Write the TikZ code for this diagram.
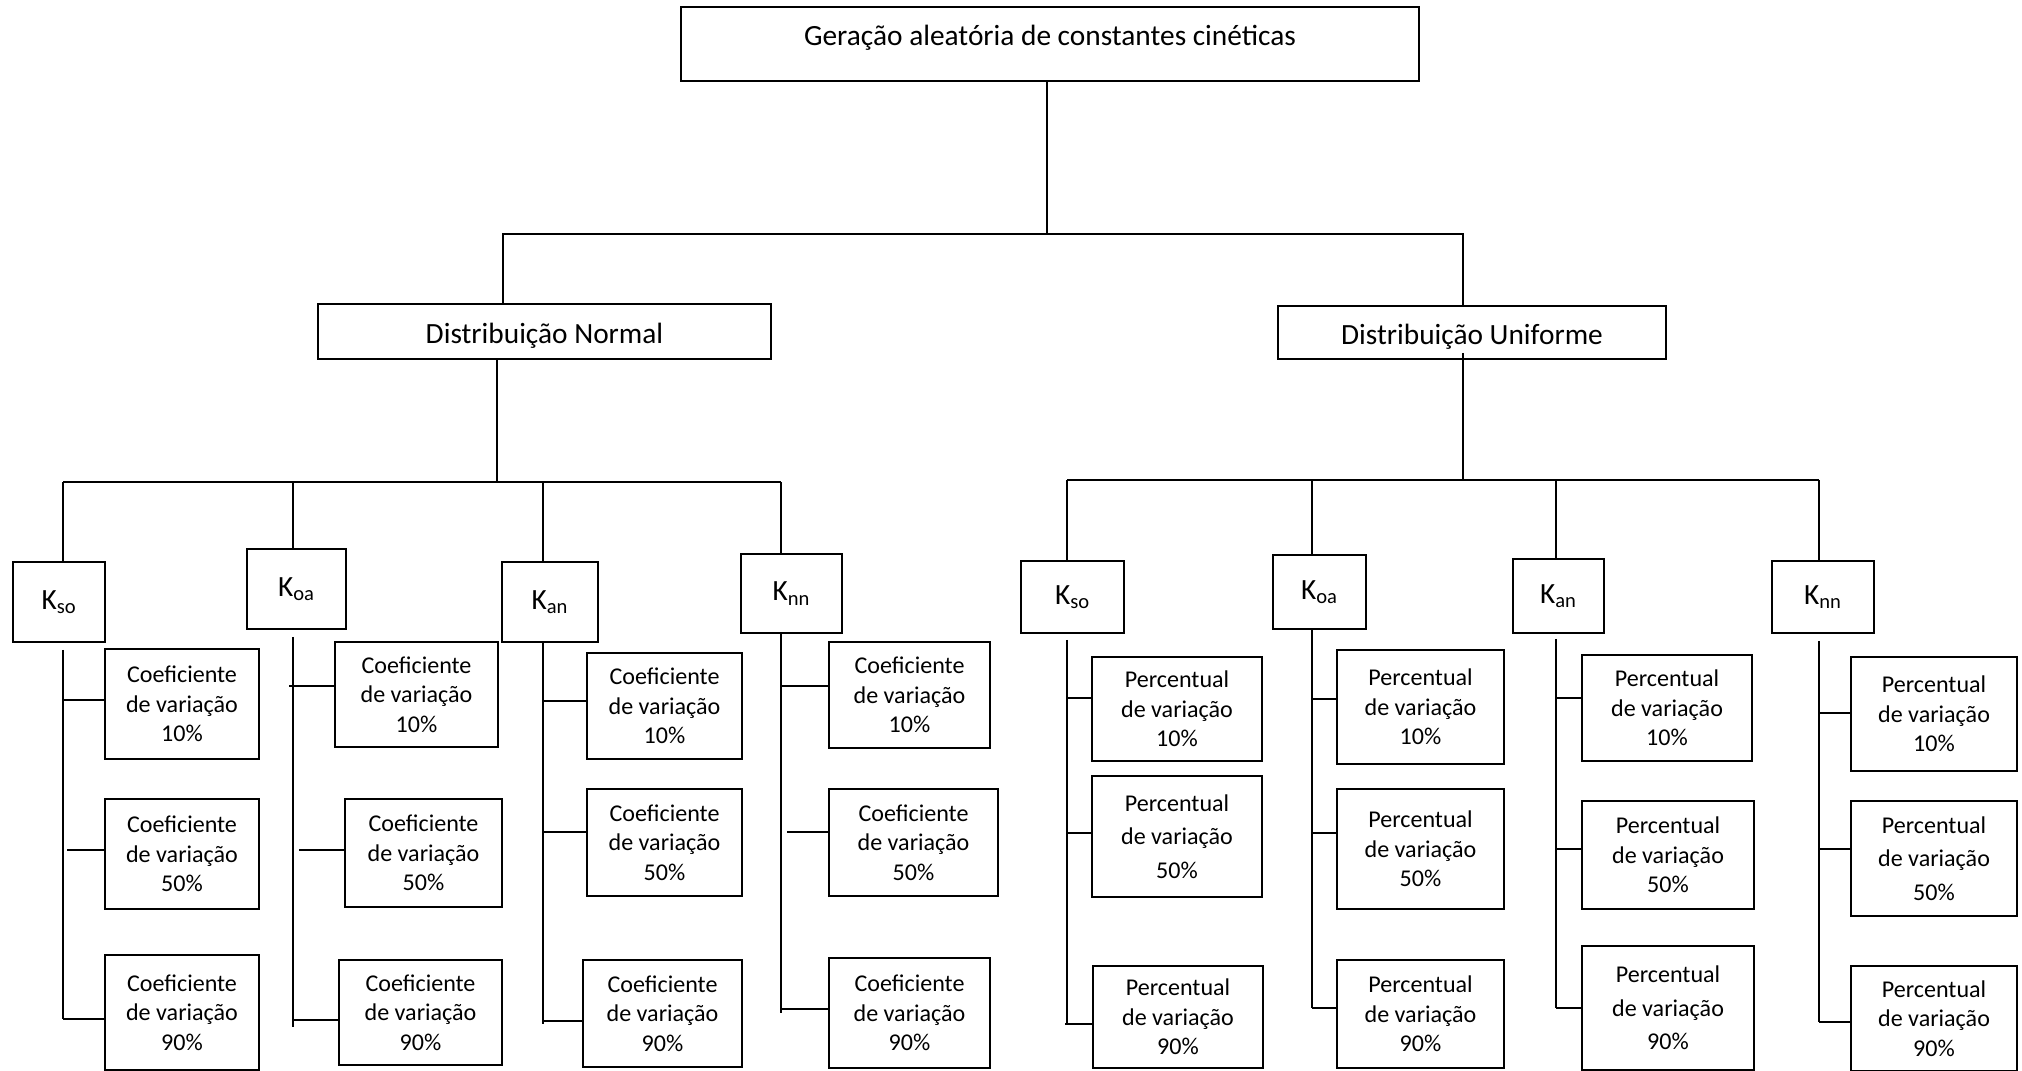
\documentclass[tikz,border=0pt]{standalone}
\usepackage{fontspec}
\setmainfont{Carlito}
\begin{document}
\begin{tikzpicture}[x=0.2mm, y=-0.2mm, line width=1.1pt,
  every node/.style={font=\fontsize{16.7}{20}\selectfont},
  box/.style={draw, inner sep=0pt, align=center},
  sz/.style 2 args={minimum width=#1*0.2mm, minimum height=#2*0.2mm},
  leaf/.style={box, font=\fontsize{13.7}{#1}\selectfont}]
\useasboundingbox (0,0) rectangle (2022,1071);
% topo e distribuicoes
\node[box,sz={738}{74},text height=12pt,text depth=10pt] (ger) at (1050,44) {Geração aleatória de constantes cinéticas};
\node[box,sz={453}{55},text height=17pt,text depth=3.5pt] (dn) at (544.5,331.5) {Distribuição Normal};
\node[box,sz={388}{53},text height=17pt,text depth=3.5pt] (du) at (1472,332.5) {Distribuição Uniforme};
\coordinate (b0) at (1047,234); \coordinate (jn) at (503,234); \coordinate (ju) at (1463,234);
\draw (ger.south -| b0) -- (b0);
\draw (dn.north -| jn) -- (jn) -- (ju) -- (du.north -| ju);
\coordinate (bn) at (497,482); \coordinate (bu) at (1463,480);
\draw (dn.south -| bn) -- (bn);
\draw (du.south -| bu) ++(0,-7) -- (bu);
% constantes
\foreach \nm/\x/\y/\w/\h/\s in {nso/59/602/92/80/so, noa/296.5/589/99/80/oa, nan/550/602/96/80/an, nnn/791.5/593.5/101/79/nn,
  uso/1072.5/597/103/72/so, uoa/1319.5/592/93/74/oa, uan/1558.5/596/91/74/an, unn/1823/597/102/72/nn}
  \node[box,sz={\w}{\h}] (\nm) at (\x,\y) {K\textsubscript{\s}};
\foreach \kk/\x/\y in {xnso/63/482, xnoa/293/482, xnan/543/482, xnnn/781/482, xuso/1067/480, xuoa/1312/480, xuan/1556/480, xunn/1819/480}
  \coordinate (\kk) at (\x,\y);
\draw (xnso) -- (xnnn);
\draw (xuso) -- (xunn);
\foreach \kk/\kn/\g/\yb in {xnso/nso/7/1019, xnoa/noa/7/1027, xnan/nan/0/1024, xnnn/nnn/0/1013,
  xuso/uso/6/1024, xuoa/uoa/0/1008, xuan/uan/5/1008, xunn/unn/7/1022} {
  \draw (\kk) -- (\kn.north -| \kk);
  \draw (\kn.south -| \kk) ++(0,\g) -- (\kk |- 0,\yb);
}
% coeficientes e percentuais
\foreach \nm/\kk/\x/\y/\w/\h/\lb/\p/\sy/\o/\ls in {
  a1/xnso/182/704/154/110/Coeficiente/10/700/0/16.7, a2/xnso/182/854/154/110/Coeficiente/50/850/4/16.7, a3/xnso/182/1012.5/154/115/Coeficiente/90/1019/0/16.7,
  b1/xnoa/416.5/694.5/163/105/Coeficiente/10/686/-4/16.7, b2/xnoa/423.5/853/157/108/Coeficiente/50/850/6/16.7, b3/xnoa/420.5/1012.5/163/105/Coeficiente/90/1020/0/16.7,
  c1/xnan/664.5/706/155/106/Coeficiente/10/701/0/16.7, c2/xnan/664.5/842.5/155/107/Coeficiente/50/832/0/16.7, c3/xnan/662.5/1013.5/159/107/Coeficiente/90/1021/0/16.7,
  d1/xnnn/909.5/695/161/106/Coeficiente/10/686/0/16.7, d2/xnnn/913.5/842.5/169/107/Coeficiente/50/832/6/16.7, d3/xnnn/909.5/1013/161/110/Coeficiente/90/1009/0/16.7,
  e1/xuso/1177/709/170/104/Percentual/10/698/0/16.7, e2/xuso/1177/836.5/170/121/Percentual/50/833/0/19, e3/xuso/1178/1017/170/102/Percentual/90/1024/-2/16.7,
  f1/xuoa/1420.5/707/167/114/Percentual/10/699/0/16.7, f2/xuoa/1420.5/849/167/120/Percentual/50/833/0/16.7, f3/xuoa/1420.5/1014/167/108/Percentual/90/1008/0/16.7,
  g1/xuan/1667/708/170/106/Percentual/10/698/0/16.7, g2/xuan/1668/855/172/108/Percentual/50/849/0/16.7, g3/xuan/1668/1008/172/124/Percentual/90/1008/0/19,
  h1/xunn/1934/714/166/114/Percentual/10/713/0/16.7, h2/xunn/1934/858.5/166/115/Percentual/50/849/0/19, h3/xunn/1934/1018.5/166/105/Percentual/90/1022/0/16.7} {
  \node[leaf=\ls,sz={\w}{\h}] (\nm) at (\x,\y) {\lb\\de variação\\\p\%};
  \draw (\nm.west |- 0,\sy) -- ([xshift=\o*0.2mm]\kk |- 0,\sy);
}
\end{tikzpicture}
\end{document}
